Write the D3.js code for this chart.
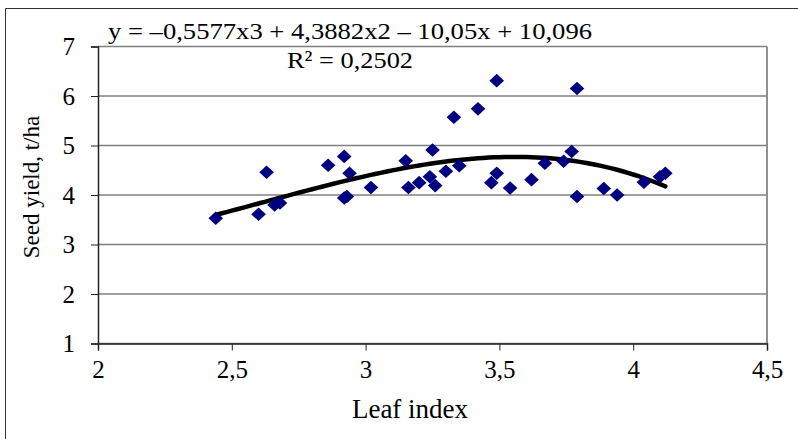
<!DOCTYPE html>
<html>
<head>
<meta charset="utf-8">
<script src="https://cdn.jsdelivr.net/npm/d3@7"></script>
<style>
  body { margin: 0; background: #fff; }
  text { font-family: "Liberation Serif", "Times New Roman", serif; fill: #000; }
</style>
</head>
<body>
<div id="chart"></div>
<script>
// leaf index vs seed yield
const leafIndex = [2.44, 2.60, 2.63, 2.66, 2.68, 2.86, 2.92, 2.94, 2.92, 2.93, 3.02, 3.15, 3.16, 3.20, 3.24,
  3.25, 3.26, 3.30, 3.33, 3.35, 3.42, 3.47, 3.49, 3.49, 3.54, 3.62, 3.67, 3.74, 3.77, 3.79, 3.79,
  3.89, 3.94, 4.04, 4.10, 4.12];
const seedYield = [3.53, 3.61, 4.46, 3.80, 3.84, 4.60, 4.78, 4.44, 3.94, 3.97, 4.15, 4.69, 4.15, 4.25, 4.37,
  4.91, 4.19, 4.48, 5.57, 4.59, 5.74, 4.25, 4.44, 6.31, 4.14, 4.31, 4.64, 4.68, 4.88, 6.15, 3.97,
  4.13, 4.00, 4.26, 4.37, 4.44];

// trendline coefficients as printed on the chart (x^3, x^2, x, const)
const trendCoef = [-0.5577, 4.3882, -10.05, 10.096];
const trendRange = [2.44, 4.12];

const xTicks = [2, 2.5, 3, 3.5, 4, 4.5];
const yTicks = [1, 2, 3, 4, 5, 6, 7];

const width = 798, height = 439;
const margin = { top: 46.5, right: 31, bottom: 95.5, left: 98 };

const svg = d3.select("#chart").append("svg")
  .attr("width", width)
  .attr("height", height);

// outer chart frame (only top and left show in the crop)
svg.append("path")
  .attr("d", `M5.5,${height} V8.5 H${width}`)
  .attr("fill", "none")
  .attr("stroke", "#333")
  .attr("stroke-width", 1);

const x = d3.scaleLinear().domain([2, 4.5]).range([margin.left, width - margin.right]);
const y = d3.scaleLinear().domain([1, 7]).range([height - margin.bottom, margin.top]);

const fmt = d => String(d).replace(".", ",");

// gridlines
svg.append("g")
  .selectAll("line")
  .data(yTicks)
  .enter().append("line")
  .attr("x1", x(2)).attr("x2", x(4.5))
  .attr("y1", d => y(d)).attr("y2", d => y(d))
  .attr("stroke", "#808080")
  .attr("stroke-width", 1.3);

// plot area border (right side)
svg.append("line")
  .attr("x1", x(4.5)).attr("x2", x(4.5))
  .attr("y1", y(7)).attr("y2", y(1))
  .attr("stroke", "#909090")
  .attr("stroke-width", 2);

// axes
const xAxis = svg.append("g")
  .attr("transform", `translate(0,${y(1)})`)
  .call(d3.axisBottom(x).tickValues(xTicks).tickFormat(fmt).tickSize(7).tickPadding(10));
const yAxis = svg.append("g")
  .attr("transform", `translate(${x(2)},0)`)
  .call(d3.axisLeft(y).tickValues(yTicks).tickFormat(d => d).tickSize(7).tickPadding(16));

[xAxis, yAxis].forEach(a => {
  a.attr("font-size", null).attr("font-family", null);
  a.select(".domain").attr("stroke", "#222").attr("stroke-width", 1.5);
  a.selectAll(".tick line").attr("stroke", "#222");
  a.selectAll("text")
    .style("font-family", '"Liberation Serif", serif')
    .style("font-size", "25px")
    .attr("fill", "#000");
});

// trendline
const poly = t => trendCoef[0] * t * t * t + trendCoef[1] * t * t + trendCoef[2] * t + trendCoef[3];
const trendX = d3.range(trendRange[0], trendRange[1] + 0.001, 0.02);
svg.append("path")
  .datum(trendX)
  .attr("fill", "none")
  .attr("stroke", "#000")
  .attr("stroke-width", 4.5)
  .attr("stroke-linecap", "round")
  .attr("d", d3.line().x(d => x(d)).y(d => y(poly(d))).curve(d3.curveMonotoneX));

// markers
svg.append("g")
  .selectAll("path")
  .data(leafIndex.map((v, i) => [v, seedYield[i]]))
  .enter().append("path")
  .attr("transform", d => `translate(${x(d[0])},${y(d[1])}) scale(1.08,1) rotate(45)`)
  .attr("d", d3.symbol().type(d3.symbolSquare).size(92))
  .attr("fill", "#000080");

// texts
svg.append("text")
  .attr("x", 108).attr("y", 39)
  .style("font-size", "24px")
  .attr("textLength", 484)
  .attr("lengthAdjust", "spacingAndGlyphs")
  .text("y = –0,5577x3 + 4,3882x2 – 10,05x + 10,096");
svg.append("text")
  .attr("x", 287).attr("y", 68)
  .style("font-size", "24px")
  .attr("textLength", 126)
  .attr("lengthAdjust", "spacingAndGlyphs")
  .text("R² = 0,2502");

svg.append("text")
  .attr("x", 410).attr("y", 418)
  .attr("text-anchor", "middle")
  .style("font-size", "27px")
  .text("Leaf index");

svg.append("text")
  .attr("transform", `translate(39,187) rotate(-90)`)
  .attr("text-anchor", "middle")
  .style("font-size", "23px")
  .text("Seed yield, t/ha");
</script>
</body>
</html>
